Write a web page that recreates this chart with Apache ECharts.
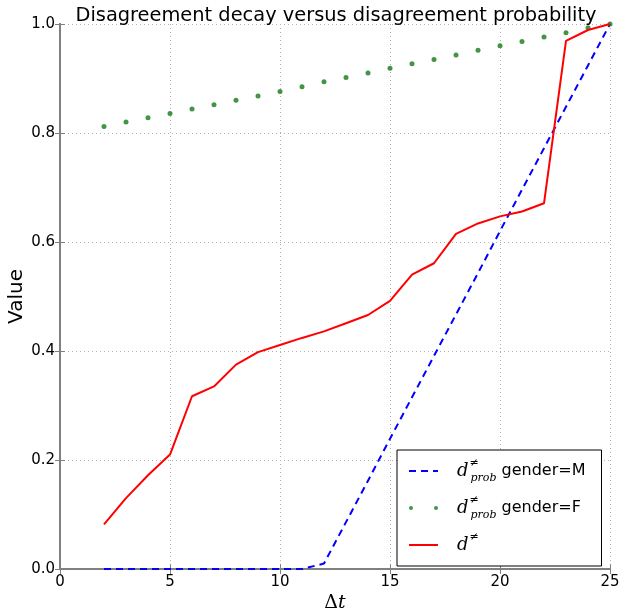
<!DOCTYPE html>
<html>
<head>
<meta charset="utf-8">
<script src="https://cdn.jsdelivr.net/npm/echarts@6/dist/echarts.min.js"></script>
<style>
  html, body { margin: 0; padding: 0; background: #fff; }
  #chart { width: 619px; height: 613px; }
</style>
</head>
<body>
<div id="chart"></div>
<script>
// Δt values
var steps = [2, 3, 4, 5, 6, 7, 8, 9, 10, 11, 12, 13, 14, 15, 16, 17, 18, 19, 20, 21, 22, 23, 24, 25];
// d_prob gender=M (dashed blue)
var probMale = [0, 0, 0, 0, 0, 0, 0, 0, 0, 0, 0.01, 0.086, 0.162, 0.239, 0.315, 0.391, 0.467, 0.543, 0.62, 0.696, 0.772, 0.848, 0.924, 1.0];
// d_prob gender=F (green dots)
var probFemale = [0.812, 0.820, 0.828, 0.836, 0.844, 0.852, 0.860, 0.868, 0.876, 0.885, 0.894, 0.902, 0.910, 0.919, 0.927, 0.935, 0.943, 0.952, 0.960, 0.968, 0.976, 0.984, 0.993, 1.0];
// d (red)
var decay = [0.082, 0.13, 0.172, 0.21, 0.317, 0.335, 0.375, 0.398, 0.411, 0.424, 0.436, 0.451, 0.466, 0.492, 0.540, 0.561, 0.615, 0.634, 0.647, 0.656, 0.671, 0.969, 0.989, 1.0];
var xTicks = [0, 5, 10, 15, 20, 25];
var yTicks = [0, 0.2, 0.4, 0.6, 0.8, 1.0];

function pairs(ys) {
    return steps.map(function (x, i) { return [x, ys[i]]; });
}

var chart = echarts.init(document.getElementById('chart'));

var green = '#147a14';
var axisFont = { color: '#000', fontSize: 15, fontFamily: 'DejaVu Sans' };
var frameLine = { show: true, lineStyle: { color: '#808080', width: 2 } };
var gridLine = { show: true, lineStyle: { color: '#b0b0b0', type: [1, 3], width: 1 } };
var tick = { show: true, inside: true, length: 5, lineStyle: { color: '#808080' } };
var hiddenSymbol = { color: 'rgba(0,0,0,0)', borderWidth: 0, opacity: 0 };

var legendRich = {
    d: { fontFamily: 'DejaVu Serif', fontStyle: 'italic', fontSize: 18, color: '#000', verticalAlign: 'middle' },
    sup: { fontFamily: 'DejaVu Sans', fontSize: 11, color: '#000', width: 0, verticalAlign: 'top', padding: [0, 0, 8, 1] },
    sub: { fontFamily: 'DejaVu Serif', fontStyle: 'italic', fontSize: 11, color: '#000', verticalAlign: 'bottom', padding: [6, 0, 0, 1] },
    txt: { fontFamily: 'DejaVu Sans', fontSize: 16, color: '#000', verticalAlign: 'middle' }
};

chart.setOption({
    animation: false,
    backgroundColor: '#fff',
    title: {
        text: 'Disagreement decay versus disagreement probability',
        left: 331,
        textAlign: 'center',
        top: 1,
        textStyle: { fontFamily: 'DejaVu Sans', fontWeight: 'normal', fontSize: 19.4, color: '#000' }
    },
    grid: { left: 60, right: 9, top: 24, bottom: 44, containLabel: false, outerBoundsMode: 'none' },
    legend: {
        orient: 'vertical',
        left: 397,
        top: 450,
        padding: [8, 16, 8, 11],
        itemGap: 11,
        itemWidth: 29,
        itemHeight: 14,
        backgroundColor: '#fff',
        borderColor: '#000',
        borderWidth: 1,
        borderRadius: 0,
        textStyle: { padding: [0, 0, 0, 14], lineHeight: 26, rich: legendRich },
        data: [
            { name: 'M', itemStyle: hiddenSymbol },
            { name: 'F', icon: 'path://M0,2a2,2 0 1,0 4,0a2,2 0 1,0 -4,0M25,2a2,2 0 1,0 4,0a2,2 0 1,0 -4,0', itemStyle: { color: green } },
            { name: 'D', itemStyle: hiddenSymbol }
        ],
        formatter: function (name) {
            if (name === 'M') return '{d|d}{sup|≠}{sub|prob}{txt| gender=M}';
            if (name === 'F') return '{d|d}{sup|≠}{sub|prob}{txt| gender=F}';
            return '{d|d}{sup|≠}';
        }
    },
    xAxis: [{
        type: 'value',
        min: 0, max: 25, interval: 5,
        name: '{a|Δ}{b|t}',
        nameLocation: 'middle',
        nameGap: 25,
        nameMoveOverlap: false,
        nameTextStyle: {
            rich: {
                a: { fontFamily: 'DejaVu Serif', fontSize: 19, color: '#000' },
                b: { fontFamily: 'DejaVu Serif', fontStyle: 'italic', fontSize: 19, color: '#000' }
            }
        },
        axisLine: frameLine,
        axisTick: tick,
        axisLabel: Object.assign({ margin: 6, customValues: xTicks }, axisFont),
        splitLine: gridLine
    }, {
        type: 'value', position: 'top',
        min: 0, max: 25, interval: 5,
        axisLine: frameLine,
        axisTick: tick,
        axisLabel: { show: false },
        splitLine: { show: false }
    }],
    yAxis: [{
        type: 'value',
        min: 0, max: 1, interval: 0.2,
        name: 'Value',
        nameLocation: 'middle',
        nameGap: 33,
        nameMoveOverlap: false,
        nameTextStyle: { fontFamily: 'DejaVu Sans', fontSize: 20, color: '#000' },
        axisLine: frameLine,
        axisTick: tick,
        axisLabel: Object.assign({ margin: 5, formatter: function (v) { return v.toFixed(1); } }, axisFont),
        splitLine: gridLine
    }, {
        type: 'value', position: 'right',
        min: 0, max: 1, interval: 0.2,
        axisLine: frameLine,
        axisTick: tick,
        axisLabel: { show: false },
        splitLine: { show: false }
    }],
    series: [
        {
            name: 'M',
            type: 'line',
            data: pairs(probMale),
            symbol: 'none',
            lineStyle: { color: '#0000ff', width: 2, type: [7, 5] },
            itemStyle: { color: '#0000ff' },
            z: 3
        },
        {
            name: 'F',
            type: 'scatter',
            data: pairs(probFemale),
            symbol: 'circle',
            symbolSize: 5,
            itemStyle: { color: green },
            z: 4
        },
        {
            name: 'D',
            type: 'line',
            data: pairs(decay),
            symbol: 'none',
            lineStyle: { color: '#ff0000', width: 2 },
            itemStyle: { color: '#ff0000' },
            z: 5
        }
    ]
});
</script>
</body>
</html>
